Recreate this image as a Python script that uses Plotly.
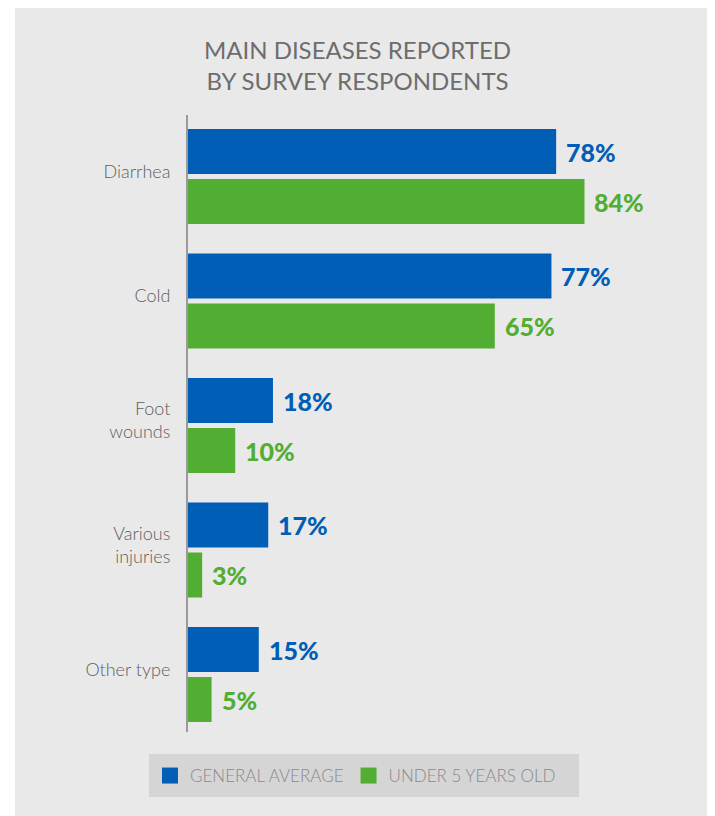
import plotly.graph_objects as go

# Survey data
categories = ["Diarrhea", "Cold", "Foot<br>wounds", "Various<br>injuries", "Other type"]
general_average = [78, 77, 18, 17, 15]
under_five = [84, 65, 10, 3, 5]
series_names = ["GENERAL AVERAGE", "UNDER 5 YEARS OLD"]

BLUE = "#005eb6"
GREEN = "#52ad33"
PANEL = "#e9e9e9"
LEGEND_BG = "#d5d5d5"

W, H = 715, 816
ML, MR, MT, MB = 188, 55, 115, 84
pw, ph = W - ML - MR, H - MT - MB

# category pitch in pixels and offset of first category centre below the top
PITCH = 124.5
FIRST_CENTER = 61.5


def px_to_paper_x(px):
    return (px - ML) / pw


def px_to_paper_y(py):
    return (H - MB - py) / ph


fig = go.Figure()
for name, vals, color in [(series_names[0], general_average, BLUE),
                          (series_names[1], under_five, GREEN)]:
    fig.add_trace(go.Bar(
        y=categories, x=vals, orientation="h", name=name,
        marker=dict(color=color, line=dict(width=0)),
        showlegend=False, hoverinfo="skip",
    ))
    # legend swatch
    fig.add_trace(go.Scatter(
        x=[None], y=[None], mode="markers", name=name,
        marker=dict(symbol="square", size=17, color=color),
    ))

# value labels at the end of each bar
annotations = []
for vals, color, shift in [(general_average, BLUE, 25), (under_five, GREEN, -25)]:
    for cat, v in zip(categories, vals):
        annotations.append(dict(
            x=v, y=cat, xref="x", yref="y", text=f"{v}%",
            showarrow=False, xanchor="left", yanchor="middle",
            xshift=8, yshift=shift,
            font=dict(family="Lato", size=25, color=color, weight=900),
        ))

shapes = [
    # grey background panel
    dict(type="rect", xref="paper", yref="paper", layer="below",
         x0=px_to_paper_x(15), x1=px_to_paper_x(707),
         y0=px_to_paper_y(H), y1=px_to_paper_y(8),
         fillcolor=PANEL, line=dict(width=0)),
    # legend strip
    dict(type="rect", xref="paper", yref="paper", layer="below",
         x0=px_to_paper_x(149), x1=px_to_paper_x(579),
         y0=px_to_paper_y(797), y1=px_to_paper_y(754),
         fillcolor=LEGEND_BG, line=dict(width=0)),
]

n = len(categories)
span = ph / PITCH
top = -FIRST_CENTER / PITCH

fig.update_layout(
    width=W, height=H,
    margin=dict(l=ML, r=MR, t=MT, b=MB),
    paper_bgcolor="white", plot_bgcolor="rgba(0,0,0,0)",
    barmode="group", bargap=1 - 100 / PITCH, bargroupgap=0.1,
    title=dict(
        text="MAIN DISEASES REPORTED<br>BY SURVEY RESPONDENTS",
        x=0.5, xanchor="center", xref="container",
        y=1 - 59 / H, yanchor="top", yref="container",
        font=dict(family="Lato", size=24, color="#6d6d6d"),
    ),
    xaxis=dict(range=[0, 100], visible=False, fixedrange=True),
    yaxis=dict(
        range=[top + span, top], showgrid=False, zeroline=False,
        showline=True, linecolor="#9a9a9a", linewidth=2,
        ticks="", ticklabelstandoff=12, ticklabelshift=5,
        tickfont=dict(family="Lato", size=18, color="#5e5e5e", weight=300),
        fixedrange=True,
    ),
    legend=dict(
        orientation="h", xref="container", yref="container",
        x=150 / W, xanchor="left", y=1 - 758 / H, yanchor="top",
        bgcolor="rgba(0,0,0,0)", borderwidth=0,
        font=dict(family="Lato", size=17, color="#8a8a8a", weight=300),
        itemclick=False, itemdoubleclick=False,
    ),
    annotations=annotations,
    shapes=shapes,
)

fig.write_html("out.html")
